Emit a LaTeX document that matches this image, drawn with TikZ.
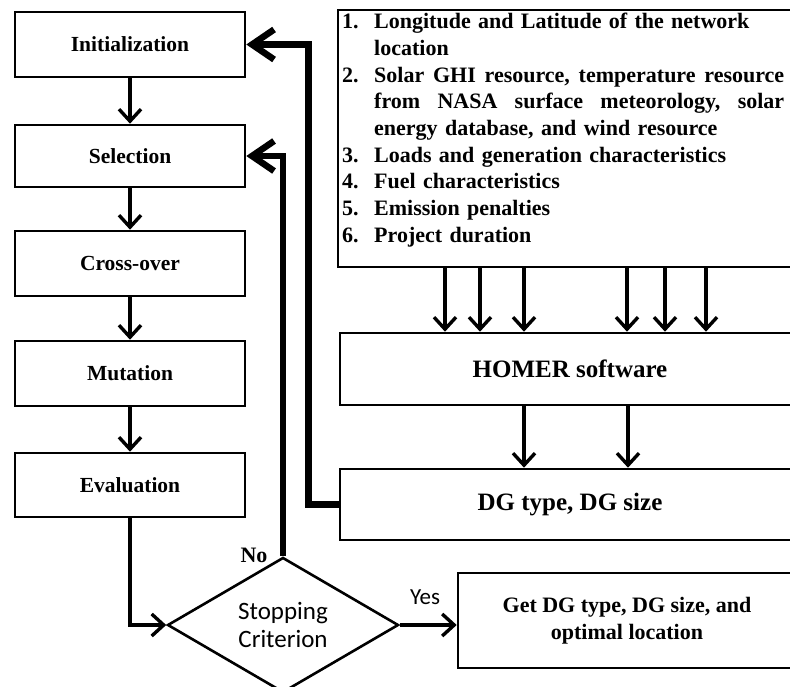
\documentclass[tikz,border=0pt]{standalone}
\usepackage{fontspec}
\setmainfont{Liberation Serif}
\newfontfamily\calib{Carlito}
\usetikzlibrary{arrows.meta,shapes.geometric}
\newcommand\jsp{\ \hfill}
\begin{document}
\begin{tikzpicture}[x=1pt,y=-1pt,
  box/.style={draw, line width=2.6pt, inner sep=0pt, align=center,
    font=\fontsize{21.5}{26}\selectfont\bfseries, minimum width=230pt},
  rbox/.style={box, minimum width=460pt, font=\fontsize{25}{30}\selectfont\bfseries},
  thinarr/.style={line width=3.2pt, -{Straight Barb[length=12pt,width=22pt,line width=3.4pt]}},
  thickarr/.style={line width=6.5pt, -{Straight Barb[length=22pt,width=30pt,line width=6.5pt]}},
  lbl/.style={inner sep=0pt}
]
\useasboundingbox (0,0) rectangle (790,686);
\clip (0,0) rectangle (790,686);

% left chain
\node[box, minimum height=65pt] (init) at (130,44.5) {Initialization};
\node[box, minimum height=62pt] (sel) at (130,156) {Selection};
\node[box, minimum height=65pt] (cross) at (130,263.5) {Cross-over};
\node[box, minimum height=65pt] (mut) at (130,373.5) {Mutation};
\node[box, minimum height=64pt] (eval) at (130,485) {Evaluation};

% inputs box
\node[draw, line width=2.6pt, inner sep=0pt, minimum width=462pt, minimum height=257pt] (inputs) at (569,138.5) {};
\node[anchor=north west, inner sep=0pt, text width=440pt, align=left,
  font=\fontsize{22}{26.7}\selectfont\bfseries] (inputstext) at (342,13) {%
\makebox[32pt][l]{1.}Longitude and Latitude of the network\\
\hspace*{32pt}location\\
\makebox[32pt][l]{2.}\makebox[410pt][l]{Solar\jsp GHI\jsp resource,\jsp temperature\jsp resource}\\
\hspace*{32pt}\makebox[410pt][l]{from\jsp NASA\jsp surface\jsp meteorology,\jsp solar}\\
\hspace*{32pt}energy database, and wind resource\\
\makebox[32pt][l]{3.}Loads and generation characteristics\\
\makebox[32pt][l]{4.}Fuel characteristics\\
\makebox[32pt][l]{5.}Emission penalties\\
\makebox[32pt][l]{6.}Project duration};

\node[rbox, minimum height=72pt] (homer) at (570,369) {HOMER software};
\node[rbox, minimum height=71pt] (dg) at (570,504.5) {DG type, DG size};
\node[box, minimum width=338pt, minimum height=95pt,
  font=\fontsize{22}{27}\selectfont\bfseries] (get) at (627,620.5) {Get DG type, DG size, and\\optimal location};

\node[diamond, draw, line width=2.6pt, minimum width=231pt, minimum height=120pt,
  inner sep=0pt, align=center, font=\calib\fontsize{25}{28}\selectfont] (dia) at (283,625) {Stopping\\Criterion};

\node[lbl, font=\fontsize{22}{26}\selectfont\bfseries] (no) at (254,555) {No};
\node[lbl, font=\calib\fontsize{23}{26}\selectfont] (yes) at (425,597) {Yes};

% connectors
\draw[thinarr] (init) -- (sel);
\draw[thinarr] (sel) -- (cross);
\draw[thinarr] (cross) -- (mut);
\draw[thinarr] (mut) -- (eval);
\draw[thinarr] (eval.south) |- (dia.west);
\draw[thinarr] (dia.east) -- (dia.east -| get.west);

\foreach \x in {445,480,524,627,665,706}
  \draw[thinarr] (inputs.south -| \x,0) -- (homer.north -| \x,0);
\foreach \x in {524,628}
  \draw[thinarr] (homer.south -| \x,0) -- (dg.north -| \x,0);

\draw[thickarr] (dg.west) -- ++(-30,0) |- (init.east);
\draw[thickarr] (dia.north) |- (sel.east);
\end{tikzpicture}
\end{document}
